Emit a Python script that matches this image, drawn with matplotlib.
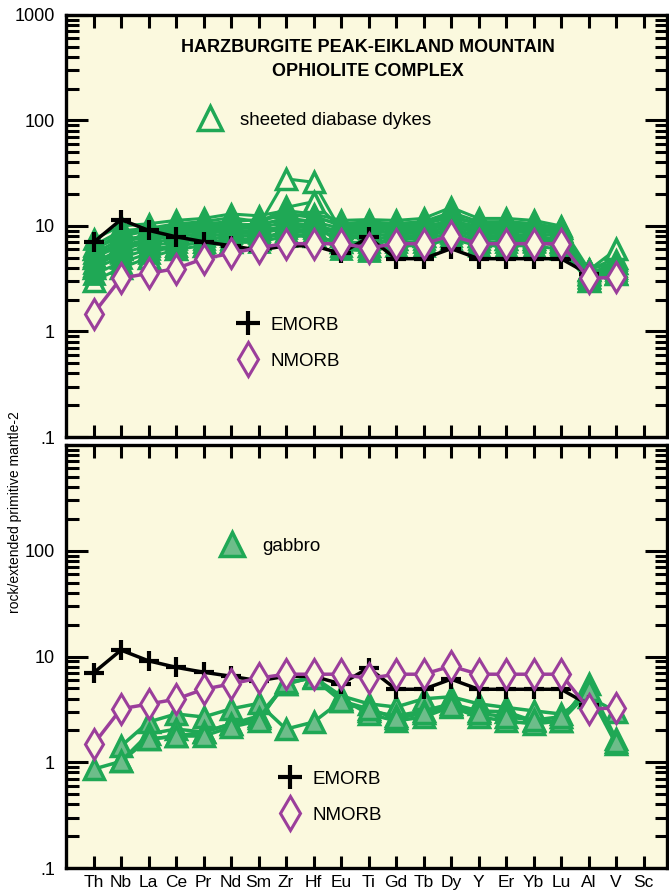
import matplotlib
matplotlib.use("Agg")
import matplotlib.pyplot as plt
from matplotlib.lines import Line2D
from matplotlib.ticker import FixedLocator, FixedFormatter, LogLocator, NullFormatter

plt.rcParams['font.family'] = ['Liberation Sans', 'DejaVu Sans']

elements = ['Th', 'Nb', 'La', 'Ce', 'Pr', 'Nd', 'Sm', 'Zr', 'Hf', 'Eu', 'Ti',
            'Gd', 'Tb', 'Dy', 'Y', 'Er', 'Yb', 'Lu', 'Al', 'V', 'Sc']

# reference patterns (Th .. Al / V)
emorb = [7.0, 11.5, 9.1, 7.9, 7.1, 6.5, 5.9, 6.5, 6.5, 5.5, 7.8,
         4.9, 4.9, 6.1, 4.9, 4.9, 4.9, 4.9, 3.5]
nmorb = [1.48, 3.2, 3.55, 3.95, 4.9, 5.5, 6.25, 6.8, 6.8, 6.8, 6.2,
         6.8, 6.8, 8.1, 6.8, 6.8, 6.8, 6.8, 3.2, 3.25]

# sheeted diabase dykes (Th .. V)
dyke_open = [
    [4.0, 6.0, 7.5, 8.5, 9.0, 9.5, 10, 28, 26, 9.0, 9.0, 9.5, 9.5, 10.5, 9.5, 9.5, 9.0, 8.5, 3.5, 4.5],
    [5.0, 7.0, 8.0, 9.0, 9.5, 10, 10.5, 15, 17, 9.5, 9.5, 10, 10, 11, 10, 10, 9.5, 9.0, 3.8, 5.0],
    [3.0, 4.0, 5.0, 6.0, 6.5, 7.0, 7.5, 8.5, 8.0, 7.0, 6.5, 7.5, 8.0, 9.0, 8.0, 7.5, 7.5, 7.0, 3.0, 3.5],
    [6.0, 8.5, 9.0, 10, 10.5, 11, 11.5, 13, 12.5, 10, 10.5, 10.5, 11, 12.5, 10.5, 11, 10.5, 9.5, 3.8, 6.0],
]
dyke_solid = [
    [7.5, 10.0, 10.5, 11.3, 11.8, 13, 12.5, 14, 13, 11.3, 11.5, 11.3, 11.8, 15, 11.8, 11.8, 11.3, 10, 3.9, 4.5],
    [6.5, 9.0, 9.5, 10.5, 11, 12, 11, 13, 12, 10.5, 11, 10.5, 11, 13.5, 11, 11, 10.5, 9.5, 3.7, 4.0],
    [6.0, 8.0, 9.0, 9.5, 10, 10.5, 10, 12, 11, 9.5, 10, 10, 10.5, 12, 10.5, 10.5, 10, 9.0, 3.5, 4.2],
    [5.5, 7.5, 8.0, 8.5, 9.0, 9.5, 9.5, 11, 10, 9.0, 9.5, 9.5, 9.5, 11.5, 9.5, 9.5, 9.0, 8.5, 3.3, 3.8],
    [5.0, 6.5, 7.5, 8.0, 8.5, 9.0, 9.0, 10, 9.5, 8.5, 8.5, 9.0, 9.0, 10.5, 9.0, 9.0, 8.5, 8.0, 3.2, 3.6],
    [4.5, 6.0, 7.0, 7.5, 8.0, 8.5, 8.5, 9.5, 9.0, 8.0, 8.0, 8.5, 8.5, 10, 8.5, 8.5, 8.0, 7.5, 3.1, 3.5],
    [3.5, 4.5, 5.5, 6.5, 7.0, 7.5, 7.5, 9.0, 8.5, 6.5, 6.0, 7.0, 7.0, 8.0, 7.0, 7.0, 7.0, 6.5, 3.3, 4.0],
    [4.0, 5.0, 6.0, 6.5, 7.0, 7.0, 7.0, 8.0, 8.0, 6.0, 5.8, 6.5, 6.5, 7.5, 6.5, 6.5, 6.5, 6.0, 3.0, 3.6],
    [5.2, 7.0, 8.5, 9.0, 9.5, 10, 10.5, 11.5, 11, 8.0, 7.5, 8.0, 8.0, 9.5, 8.0, 8.0, 7.8, 7.2, 3.4, 4.5],
    [4.2, 5.5, 6.5, 7.0, 7.5, 8.0, 8.0, 10.5, 10, 7.0, 7.0, 7.5, 7.5, 8.5, 7.5, 7.5, 7.2, 6.8, 3.2, 4.8],
]

# gabbro (Th .. V), None where not analysed
gabbro = [
    [0.86, 1.02, 1.65, 1.77, 1.93, 2.3, 2.74, 5.5, 6.4, 4.25, 3.57, 3.33, 3.98, 4.16, 3.57, 3.3, 3.06, 2.86, 4.16, 3.0],
    [None, 1.42, 2.4, 2.86, 2.68, 3.2, 3.6, 2.06, 2.4, 3.8, 3.06, 2.74, 3.06, 3.57, 3.06, 3.0, 2.46, 2.46, 5.5, 1.66],
    [None, 1.02, 1.85, 2.06, 1.93, 2.3, 2.6, 5.5, 6.4, 4.0, 2.86, 2.46, 2.68, 3.33, 2.68, 2.46, 2.3, 2.46, 4.6, 1.48],
    [None, None, 1.65, 1.77, 1.77, 2.15, 2.46, 5.8, 6.2, 3.8, 3.2, 2.6, 2.9, 3.4, 2.9, 2.7, 2.5, 2.7, 4.8, 1.55],
]

bg = '#fbf9de'
green = '#1fa855'
gfill = '#6dbd8a'
purple = '#9b3e9b'

fig = plt.figure(figsize=(6.69, 8.96), dpi=100)
ax1 = fig.add_axes([66/669, 1-437/896, 601/669, 422/896])
ax2 = fig.add_axes([66/669, 1-868/896, 601/669, 423/896])


def series(vals):
    pts = [(i, v) for i, v in enumerate(vals) if v is not None]
    return [p[0] for p in pts], [p[1] for p in pts]


def draw_ref(ax):
    x, y = series(emorb)
    ax.plot(x, y, color='black', lw=2.5, marker='+', ms=15, mew=3, zorder=5)
    x, y = series(nmorb)
    ax.plot(x, y, color=purple, lw=2.5, marker='d', ms=15, mew=2.2,
            mfc=bg, mec=purple, zorder=6)


for s in dyke_open:
    x, y = series(s)
    ax1.plot(x, y, color=green, lw=2.2, marker='^', ms=15, mew=2.5, mfc=bg, mec=green)
for s in dyke_solid:
    x, y = series(s)
    ax1.plot(x, y, color=green, lw=2.2, marker='^', ms=15, mew=2, mfc=green, mec=green)
draw_ref(ax1)

for s in gabbro:
    x, y = series(s)
    ax2.plot(x, y, color=green, lw=2.5, marker='^', ms=15, mew=2.5, mfc=gfill, mec=green)
draw_ref(ax2)

for ax, labels in [(ax1, ['.1', '1', '10', '100', '1000']),
                   (ax2, ['.1', '1', '10', '100', ''])]:
    ax.set_facecolor(bg)
    ax.set_yscale('log')
    ax.set_ylim(0.1, 1000)
    ax.set_xlim(-1, 20.85)
    ax.yaxis.set_major_locator(FixedLocator([0.1, 1, 10, 100, 1000]))
    ax.yaxis.set_major_formatter(FixedFormatter(labels))
    ax.yaxis.set_minor_locator(LogLocator(base=10, subs=range(2, 10)))
    ax.yaxis.set_minor_formatter(NullFormatter())
    ax.set_xticks(range(len(elements)))
    ax.tick_params(axis='y', which='major', direction='in', length=16, width=2.2,
                   left=True, right=True, labelsize=13, pad=8)
    ax.tick_params(axis='y', which='minor', direction='in', length=9, width=2.2,
                   left=True, right=True)
    ax.tick_params(axis='x', direction='in', length=9, width=2.2, top=True, bottom=True,
                   labelsize=12.5, pad=5)
    for sp in ax.spines.values():
        sp.set_linewidth(2.4)

ax1.set_xticklabels([])
ax2.set_xticklabels(elements)

ax1.text(0.502, 0.924, 'HARZBURGITE PEAK-EIKLAND MOUNTAIN', transform=ax1.transAxes,
         ha='center', va='center', fontsize=13, fontweight='bold')
ax1.text(0.502, 0.865, 'OPHIOLITE COMPLEX', transform=ax1.transAxes,
         ha='center', va='center', fontsize=13, fontweight='bold')

fig.text(15/669, 1-512/896, 'rock/extended primitive mantle-2', rotation=90,
         ha='center', va='center', fontsize=10)

# legends
h_dyke = Line2D([], [], ls='none', marker='^', ms=17, mew=2.5, mfc=bg, mec=green)
h_gab = Line2D([], [], ls='none', marker='^', ms=17, mew=2.5, mfc=gfill, mec=green)
h_em = Line2D([], [], ls='none', marker='+', ms=17, mew=3, color='black')
h_nm = Line2D([], [], ls='none', marker='d', ms=17, mew=2.2, mfc=bg, mec=purple)

kw = dict(frameon=False, handlelength=1.2, borderpad=0,
          borderaxespad=0, fontsize=13.5, loc='center left')


def px(ax_top, ax_h, x, y):
    return ((x - 66) / 601, (ax_top + ax_h - y) / ax_h)


lg = ax1.legend([h_dyke], ['sheeted diabase dykes'], bbox_to_anchor=px(15, 422, 199, 120),
                handletextpad=1.0, **kw)
ax1.add_artist(lg)
ax1.legend([h_em, h_nm], ['EMORB', 'NMORB'], bbox_to_anchor=px(15, 422, 237, 343),
           labelspacing=1.0, handletextpad=0.6, **kw)

lg = ax2.legend([h_gab], ['gabbro'], bbox_to_anchor=px(445, 423, 221, 546),
                handletextpad=1.0, **kw)
ax2.add_artist(lg)
ax2.legend([h_em, h_nm], ['EMORB', 'NMORB'], bbox_to_anchor=px(445, 423, 279, 797),
           labelspacing=1.0, handletextpad=0.6, **kw)

fig.savefig('out.png', dpi=100, facecolor='white')
